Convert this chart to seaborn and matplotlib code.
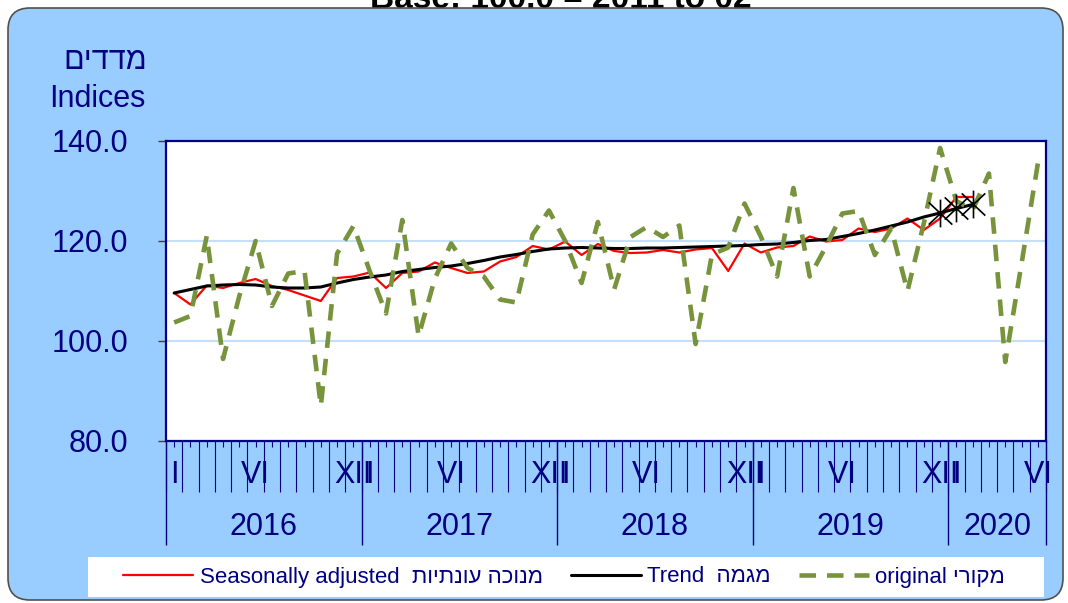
import numpy as np
import pandas as pd
import seaborn as sns
import matplotlib
matplotlib.use('Agg')
import matplotlib.pyplot as plt
import matplotlib.transforms as mtransforms
from matplotlib.patches import FancyBboxPatch, Rectangle
from matplotlib.lines import Line2D
from matplotlib.path import Path

# monthly series, Jan 2016 - Jun 2020
months = pd.period_range('2016-01', '2020-06', freq='M')
years = [2016, 2017, 2018, 2019, 2020]
roman = {1: 'I', 6: 'VI', 12: 'XII'}
yticks = [80, 100, 120, 140]

original = [103.7, 105.0, 121.0, 96.4, 109.0, 120.0, 107.0, 113.5, 114.0, 87.0,
            117.5, 123.0, 114.0, 105.5, 124.2, 101.0, 112.5, 119.5, 114.6, 112.9,
            108.3, 107.7, 121.3, 126.1, 120.0, 111.6, 123.8, 110.3, 120.8, 122.8,
            120.8, 123.1, 99.4, 117.3, 118.7, 127.5, 120.9, 112.9, 130.6, 112.9,
            118.9, 125.5, 126.0, 117.2, 122.5, 110.0, 123.5, 138.6, 128.0, 126.2,
            133.5, 95.8, 115.5, 135.5]

seas_adj = [109.6, 107.3, 111.1, 110.6, 111.6, 112.4, 111.0, 110.2, 109.1, 108.0,
            112.6, 112.9, 113.7, 110.6, 113.6, 113.9, 115.7, 114.6, 113.6, 113.9,
            115.9, 116.8, 119.0, 118.3, 119.9, 117.2, 119.4, 118.0, 117.6, 117.7,
            118.2, 117.7, 118.3, 118.6, 114.0, 119.5, 117.7, 118.7, 119.0, 120.9,
            119.9, 120.2, 122.5, 121.8, 122.5, 124.5, 122.2, 124.5, 128.8, 128.8]

trend = [109.6, 110.3, 111.0, 111.2, 111.3, 111.2, 110.8, 110.6, 110.6, 110.8,
         111.6, 112.3, 112.8, 113.2, 113.9, 114.3, 114.7, 115.0, 115.5, 116.1,
         116.8, 117.3, 117.9, 118.4, 118.6, 118.7, 118.6, 118.5, 118.5, 118.6,
         118.6, 118.7, 118.8, 118.9, 119.0, 119.1, 119.3, 119.4, 119.7, 120.1,
         120.3, 120.9, 121.5, 122.2, 123.0, 123.8, 124.8, 125.6, 126.5, 127.3]
n_est = 3  # last trend points are estimates (asterisks)


def heb(s):
    # matplotlib has no bidi support, so lay the hebrew out visually
    return s[::-1]


NAVY = '#000080'
GREEN = '#77933C'
W, H = 1068, 603

sns.set_style('white')
plt.rcParams['font.family'] = ['Liberation Sans', 'DejaVu Sans']

fig = plt.figure(figsize=(W / 100, H / 100), dpi=100, facecolor='white')

# cut-off title strip above the panel (mostly hidden behind it)
fig.text(0.525, 1 - 8 / H, 'Base: 100.0 = 2011 to 02', fontsize=24, weight='bold',
         ha='center', va='baseline', color='black', zorder=-2)

# blue rounded panel
panel = FancyBboxPatch((8, 3), 1055, 592, boxstyle='round,pad=0,rounding_size=22',
                       transform=mtransforms.IdentityTransform(),
                       fc='#99CCFF', ec='#505050', lw=1.2, zorder=-1)
fig.patches.append(panel)

ax = fig.add_axes([166 / W, 1 - 441 / H, 880 / W, 300 / H])
ax.set_facecolor('white')

df = pd.DataFrame({'x': np.arange(len(months)), 'original': original})
df['seas'] = pd.Series(seas_adj)
df['trend'] = pd.Series(trend)

sns.lineplot(data=df, x='x', y='seas', color='#FF0000', lw=1.6, ax=ax)
sns.lineplot(data=df, x='x', y='trend', color='black', lw=2.2, ax=ax)
sns.lineplot(data=df, x='x', y='original', color=GREEN, lw=3.3, ax=ax)
ax.lines[-1].set_dashes((3.6, 2.4))

# asterisk markers on the provisional trend points
ast = Path([(0, -1), (0, 1), (-0.85, -0.8), (0.85, 0.8), (-0.85, 0.8), (0.85, -0.8)],
           [Path.MOVETO, Path.LINETO, Path.MOVETO, Path.LINETO, Path.MOVETO, Path.LINETO])
est = df.iloc[len(trend) - n_est:len(trend)]
sns.lineplot(data=est, x='x', y='trend', lw=0, marker=ast, ms=20, mec='black',
             mfc='none', mew=1.2, ax=ax)

ax.set_xlim(-0.5, len(months) - 0.5)
ax.set_ylim(80, 140)
ax.set_yticks(yticks)
ax.set_yticklabels([f'{v:.1f}' for v in yticks])
ax.yaxis.grid(True, color='#C5DFF8', lw=1.5)
ax.set_axisbelow(True)
ax.tick_params(axis='y', labelsize=22, labelcolor=NAVY, color='#404040',
               length=6, width=1, pad=21, left=True, direction='out')
ax.set_xticks([])
ax.set_xlabel('')
ax.set_ylabel('')
for sp in ax.spines.values():
    sp.set_color(NAVY)
    sp.set_linewidth(1.6)

# month / year scale under the plot
tr = ax.get_xaxis_transform()
n = len(months)
bounds = np.arange(n + 1) - 0.5
ax.vlines(bounds, -51 / 300, 0, transform=tr, colors=NAVY, lw=0.8, clip_on=False)
ax.vlines(np.arange(n), -6 / 300, 0, transform=tr, colors=NAVY, lw=0.8, clip_on=False)
ybounds = [i - 0.5 for i, p in enumerate(months) if p.month == 1] + [n - 0.5]
ax.vlines(ybounds, -104 / 300, 0, transform=tr, colors=NAVY, lw=1.0, clip_on=False)

for i, p in enumerate(months):
    if p.month in roman:
        ax.text(i, -42 / 300, roman[p.month], transform=tr, ha='center', va='baseline',
                fontsize=22, color=NAVY)
for yr in years:
    idx = [i for i, p in enumerate(months) if p.year == yr]
    ax.text((idx[0] + idx[-1]) / 2, -94 / 300, str(yr), transform=tr, ha='center',
            va='baseline', fontsize=22, color=NAVY)

fig.text(105 / W, 1 - 69 / H, heb('מדדים'), ha='center', va='baseline', fontsize=22, color=NAVY)
fig.text(97 / W, 1 - 107 / H, 'Indices', ha='center', va='baseline', fontsize=22, color=NAVY)

# legend box
fig.patches.append(Rectangle((88, 6), 956, 40, transform=mtransforms.IdentityTransform(),
                             fc='white', ec='none', zorder=-0.5))
handles = [Line2D([], [], color='#FF0000', lw=1.6),
           Line2D([], [], color='black', lw=2.2),
           Line2D([], [], color=GREEN, lw=3.3, dashes=(3.6, 2.4))]
labels = ['Seasonally adjusted  ' + heb('מנוכה עונתיות'),
          'Trend  ' + heb('מגמה'),
          'original ' + heb('מקורי')]
fig.legend(handles, labels, loc='center', bbox_to_anchor=(123 / W, 1 - 597 / H, 882 / W, 40 / H),
           mode='expand', ncol=3, frameon=False, fontsize=16, handlelength=3.15,
           handletextpad=0.3, borderaxespad=0, borderpad=0, labelcolor=NAVY)

fig.savefig('out.png', dpi=100, facecolor='white')
